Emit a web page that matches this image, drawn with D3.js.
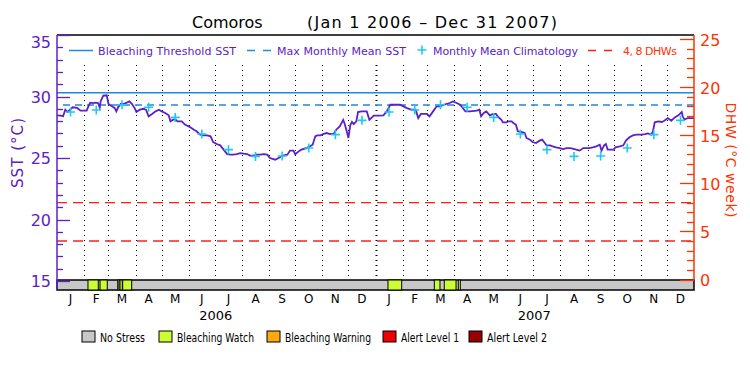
<!DOCTYPE html>
<html><head><meta charset="utf-8">
<script src="https://cdn.jsdelivr.net/npm/d3@7"></script>
<style>
body { margin: 0; background: #fff; }
text { font-family: "DejaVu Sans", sans-serif; }
.thin { font-weight: 200; }
</style></head>
<body>
<svg width="750" height="375"></svg>
<script>

// ---- data ----
// SST, days counted from Jan 1 2006
const sstDay = [0,4,7,9.5,12,15,18,23,27,34,36,38,41,44,47,49,50,53,57,59,63,66,68,70,73,76,80,83,86,89,91,95,99,102,105,109,113,117,120,124,128,130,133,136,138,143,147,151,154,157,160,164,168,172,176,179,183,187,191,195,199,202,206,210,214,218,221,225,229,233,237,241,244,250,254,259,264,267,271,273,277,280,286,290,293,296,298,302,305,309,313,317,320,324,328,330,332,334,336,338,340,343,345,349,355,358,363,368,374,378,382,385,393,397,401,406,411,414,417,424,427,431,435,439,443,450,454,458,462,465,468,473,481,484,486,489,492,496,500,503,505,509,511,515,517,521,523,526,528,532,536,538,542,545,549,553,556,559,561,565,568,572,576,580,584,588,591,595,599,603,607,610,614,618,622,624,627,629,631,635,638,640,645,649,652,656,660,664,670,674,677,681,683,685,689,693,696,700,704,708,712,716,717,719,723,730];
const sstVal = [28.47,28.45,28.4,28.93,28.74,28.93,29.12,29.07,28.85,28.85,29.2,29.5,29.47,29.5,29.47,29.1,29.6,30.07,30.1,29.39,29.2,29.07,28.79,29.12,29.39,29.39,29.5,29.6,29.39,29.06,28.74,28.93,29.0,28.93,28.39,28.58,28.79,28.93,28.79,28.66,28.47,27.98,28.12,28.12,27.98,27.98,27.7,27.57,27.44,27.3,27.17,26.9,26.84,26.84,26.76,26.3,26.14,26.03,25.68,25.32,25.27,25.27,25.32,25.4,25.35,25.32,25.2,25.2,25.27,25.27,25.32,25.27,25.0,24.86,25.0,25.2,25.27,25.6,25.6,25.3,25.54,25.68,25.81,25.95,26.08,26.76,26.84,26.84,26.95,27.03,26.95,26.95,27.3,27.57,28.1,27.7,27.17,26.63,27.65,27.93,27.76,27.98,28.74,28.79,28.79,28.1,28.44,28.44,28.47,28.79,29.33,29.33,29.33,29.2,29.06,28.93,28.93,28.25,28.58,28.58,28.39,28.79,29.2,29.2,29.33,29.47,29.6,29.47,29.33,29.06,28.79,28.79,28.85,28.93,28.39,28.66,28.79,28.47,28.58,28.58,28.39,28.12,27.9,27.9,27.98,27.98,27.85,27.7,27.17,27.12,27.03,26.63,26.49,26.3,26.22,26.41,26.49,26.22,26.03,26.03,25.95,25.87,25.81,25.73,25.81,25.81,25.76,25.68,25.6,25.81,25.81,25.81,25.87,25.95,26.08,25.6,26.03,26.14,25.68,25.68,25.68,25.87,25.95,26.03,26.41,26.68,26.84,26.9,26.9,26.95,27.0,26.9,27.17,27.9,27.98,27.93,28.03,28.25,28.03,28.3,28.47,28.74,28.39,28.12,28.25,28.25];

// monthly mean climatology, Jan..Dec
const climVal = [28.74, 28.9, 29.33, 29.13, 28.3, 26.95, 25.68, 25.13, 25.16, 25.81, 26.9, 28.06];

const mmm = 29.31;          // max monthly mean
const threshold = 30.31;    // bleaching threshold
const dhwLevels = [4, 8];

// bleaching watch periods (days from Jan 1 2006)
const watchStart = [35.5, 49.3, 69.6, 72.2, 75.3, 379.3, 432.4, 443.8, 459.9];
const watchEnd   = [47.3, 57.6, 71.0, 74.8, 85.6, 395.0, 438.9, 457.3, 462.2];

const monthLetters = ["J","F","M","A","M","J","J","A","S","O","N","D"];
const years = [2006, 2007];
const sstTicks = [15, 20, 25, 30, 35];
const dhwTicks = [0, 5, 10, 15, 20, 25];
const alertNames = ["No Stress", "Bleaching Watch", "Bleaching Warning", "Alert Level 1", "Alert Level 2"];

// ---- styles ----
const alertColors = ["#c8c8c8", "#ccff33", "#fbaa10", "#f00000", "#990000"];
const purple = "#5b21c8", orange = "#ff3300", blue = "#2088e0", cyan = "#1ec8f5", red = "#ff1e1e";

const svg = d3.select("svg");
const pLeft = 57, pRight = 694, pTop = 35, barTop = 280, barBottom = 290;

const day0 = Date.UTC(2006, 0, 1);
const toDate = d => new Date(day0 + d * 864e5);

const x = d3.scaleUtc().domain([new Date(day0), new Date(Date.UTC(2008, 0, 1))]).range([pLeft, pRight]);
const y = d3.scaleLinear().domain([15, 35]).range([281, 35]);
const yd = d3.scaleLinear().domain([0, 25]).range([279.5, 39]);

// month grid
const months = d3.utcMonth.range(new Date(day0), new Date(Date.UTC(2008, 0, 1)));
svg.append("g").selectAll("line")
  .data(months.slice(1))
  .join("line")
    .attr("x1", d => Math.round(x(d)) + 0.5).attr("x2", d => Math.round(x(d)) + 0.5)
    .attr("y1", 65).attr("y2", barTop)
    .attr("stroke", "#000")
    .attr("stroke-width", d => d.getUTCMonth() == 0 ? 2 : 1)
    .attr("stroke-dasharray", "1,4");

// DHW 4 and 8 lines
svg.append("g").selectAll("line")
  .data(dhwLevels)
  .join("line")
    .attr("x1", pLeft).attr("x2", pRight)
    .attr("y1", d => yd(d)).attr("y2", d => yd(d))
    .attr("stroke", red).attr("stroke-width", 1.3)
    .attr("stroke-dasharray", "10,6");

// threshold + MMM
svg.append("line")
  .attr("x1", pLeft).attr("x2", pRight)
  .attr("y1", y(threshold)).attr("y2", y(threshold))
  .attr("stroke", blue).attr("stroke-width", 1.5);
svg.append("line")
  .attr("x1", pLeft + 6).attr("x2", pRight)
  .attr("y1", y(mmm)).attr("y2", y(mmm))
  .attr("stroke", blue).attr("stroke-width", 1.5)
  .attr("stroke-dasharray", "7,5");

// SST line
const line = d3.line()
  .x((d, i) => x(toDate(d)))
  .y((d, i) => y(sstVal[i]));
svg.append("path")
  .attr("d", line(sstDay))
  .attr("fill", "none")
  .attr("stroke", purple)
  .attr("stroke-width", 1.8)
  .attr("stroke-linejoin", "miter");

// climatology crosses, mid month
const climPts = [];
years.forEach(yr => climVal.forEach((v, m) => {
  let a = Date.UTC(yr, m, 1), b = Date.UTC(yr, m + 1, 1);
  climPts.push({ date: new Date((a + b) / 2), v: v });
}));
svg.append("g").selectAll("path")
  .data(climPts)
  .join("path")
    .attr("transform", d => "translate(" + x(d.date) + "," + y(d.v) + ")")
    .attr("d", "M-4.5,0H4.5M0,-4.5V4.5")
    .attr("stroke", cyan).attr("stroke-width", 1.6);

// alert bar
svg.append("rect")
  .attr("x", pLeft).attr("y", barTop)
  .attr("width", pRight - pLeft).attr("height", barBottom - barTop)
  .attr("fill", alertColors[0]).attr("stroke", "#000").attr("stroke-width", 1.5);
svg.append("g").selectAll("rect")
  .data(watchStart)
  .join("rect")
    .attr("x", d => x(toDate(d)))
    .attr("y", barTop)
    .attr("width", (d, i) => x(toDate(watchEnd[i])) - x(toDate(d)))
    .attr("height", barBottom - barTop)
    .attr("fill", alertColors[1]).attr("stroke", "#000").attr("stroke-width", 1);

// frame top
svg.append("line")
  .attr("x1", pLeft).attr("x2", pRight).attr("y1", pTop).attr("y2", pTop)
  .attr("stroke", "#000").attr("stroke-width", 1.5);

// left axis
svg.append("line")
  .attr("x1", pLeft).attr("x2", pLeft).attr("y1", pTop).attr("y2", barBottom)
  .attr("stroke", purple).attr("stroke-width", 1.5);
svg.append("g").selectAll("line")
  .data(d3.range(15, 36))
  .join("line")
    .attr("x1", pLeft).attr("x2", d => pLeft + (d % 5 == 0 ? 13 : 6))
    .attr("y1", d => Math.round(y(d)) + 0.5).attr("y2", d => Math.round(y(d)) + 0.5)
    .attr("stroke", purple).attr("stroke-width", 1.3);
svg.append("g").selectAll("text")
  .data(sstTicks)
  .join("text")
    .attr("x", pLeft - 6).attr("y", d => y(d))
    .attr("dy", d => d == 35 ? "0.8em" : "0.4em")
    .attr("text-anchor", "end")
    .attr("font-size", 16).attr("fill", purple)
    .text(d => d);
svg.append("text")
  .attr("transform", "translate(23,153) rotate(-90)")
  .attr("text-anchor", "middle")
  .attr("font-size", 15).attr("fill", purple)
  .attr("textLength", 70).attr("lengthAdjust", "spacing")
  .text("SST (°C)");

// right axis
svg.append("line")
  .attr("x1", pRight).attr("x2", pRight).attr("y1", pTop).attr("y2", barTop)
  .attr("stroke", orange).attr("stroke-width", 1.5);
svg.append("g").selectAll("line")
  .data(d3.range(0, 26))
  .join("line")
    .attr("x1", pRight).attr("x2", d => pRight - (d % 5 == 0 ? 14 : 7))
    .attr("y1", d => Math.round(yd(d)) + 0.5).attr("y2", d => Math.round(yd(d)) + 0.5)
    .attr("stroke", orange).attr("stroke-width", 1.3);
svg.append("g").selectAll("text")
  .data(dhwTicks)
  .join("text")
    .attr("x", pRight + 6).attr("y", d => yd(d))
    .attr("dy", "0.42em")
    .attr("font-size", 16).attr("fill", orange)
    .text(d => d);
svg.append("text")
  .attr("transform", "translate(726,160) rotate(90)")
  .attr("text-anchor", "middle")
  .attr("font-size", 14).attr("fill", orange)
  .attr("textLength", 115).attr("lengthAdjust", "spacing")
  .text("DHW (°C week)");

// month + year labels
svg.append("g").selectAll("text")
  .data(months)
  .join("text")
    .attr("x", d => x(new Date((+d + +d3.utcMonth.offset(d, 1)) / 2)))
    .attr("y", 303)
    .attr("text-anchor", "middle")
    .attr("font-size", 12).attr("fill", "#000")
    .text(d => monthLetters[d.getUTCMonth()]);
svg.append("g").selectAll("text")
  .data(years)
  .join("text")
    .attr("x", d => x(new Date(Date.UTC(d, 6, 2))))
    .attr("y", 320)
    .attr("text-anchor", "middle")
    .attr("font-size", 13).attr("fill", "#000")
    .text(d => d);

// title
svg.append("text").attr("x", 192).attr("y", 28)
  .attr("font-size", 16).text("Comoros");
svg.append("text").attr("x", 307).attr("y", 28)
  .attr("font-size", 16)
  .attr("textLength", 250).attr("lengthAdjust", "spacing")
  .text("(Jan 1 2006 \u2013 Dec 31 2007)");

// top legend
const lg = svg.append("g").attr("font-size", 11);
lg.append("line").attr("x1", 69).attr("x2", 93).attr("y1", 50.5).attr("y2", 50.5)
  .attr("stroke", blue).attr("stroke-width", 1.5);
lg.append("text").attr("x", 98).attr("y", 54.5).attr("fill", purple)
  .attr("textLength", 138).attr("lengthAdjust", "spacing").text("Bleaching Threshold SST");
lg.append("line").attr("x1", 247).attr("x2", 271).attr("y1", 50.5).attr("y2", 50.5)
  .attr("stroke", blue).attr("stroke-width", 1.5).attr("stroke-dasharray", "8,8");
lg.append("text").attr("x", 277).attr("y", 54.5).attr("fill", purple)
  .attr("textLength", 129).attr("lengthAdjust", "spacing").text("Max Monthly Mean SST");
lg.append("path").attr("transform", "translate(422,50)").attr("d", "M-4.5,0H4.5M0,-4.5V4.5")
  .attr("stroke", cyan).attr("stroke-width", 1.6);
lg.append("text").attr("x", 433).attr("y", 54.5).attr("fill", purple)
  .attr("textLength", 145).attr("lengthAdjust", "spacing").text("Monthly Mean Climatology");
lg.append("line").attr("x1", 588).attr("x2", 612).attr("y1", 50.5).attr("y2", 50.5)
  .attr("stroke", red).attr("stroke-width", 1.5).attr("stroke-dasharray", "8,8");
lg.append("text").attr("x", 623).attr("y", 54.5).attr("fill", orange)
  .attr("textLength", 54).attr("lengthAdjust", "spacing").text("4, 8 DHWs");

// bottom legend
const legX = [82, 159, 267, 383, 469];
const legW = [45, 77, 86, 58, 60];
const bl = svg.append("g").selectAll("g")
  .data(alertNames)
  .join("g")
    .attr("transform", (d, i) => "translate(" + legX[i] + ",331)");
bl.append("rect")
  .attr("width", 13).attr("height", 11)
  .attr("fill", (d, i) => alertColors[i])
  .attr("stroke", "#000").attr("stroke-width", 1);
bl.append("text")
  .attr("x", 18).attr("y", 10.5)
  .attr("font-size", 11.5).attr("fill", "#000")
  .attr("textLength", (d, i) => legW[i]).attr("lengthAdjust", "spacingAndGlyphs")
  .text(d => d);

</script>
</body></html>
